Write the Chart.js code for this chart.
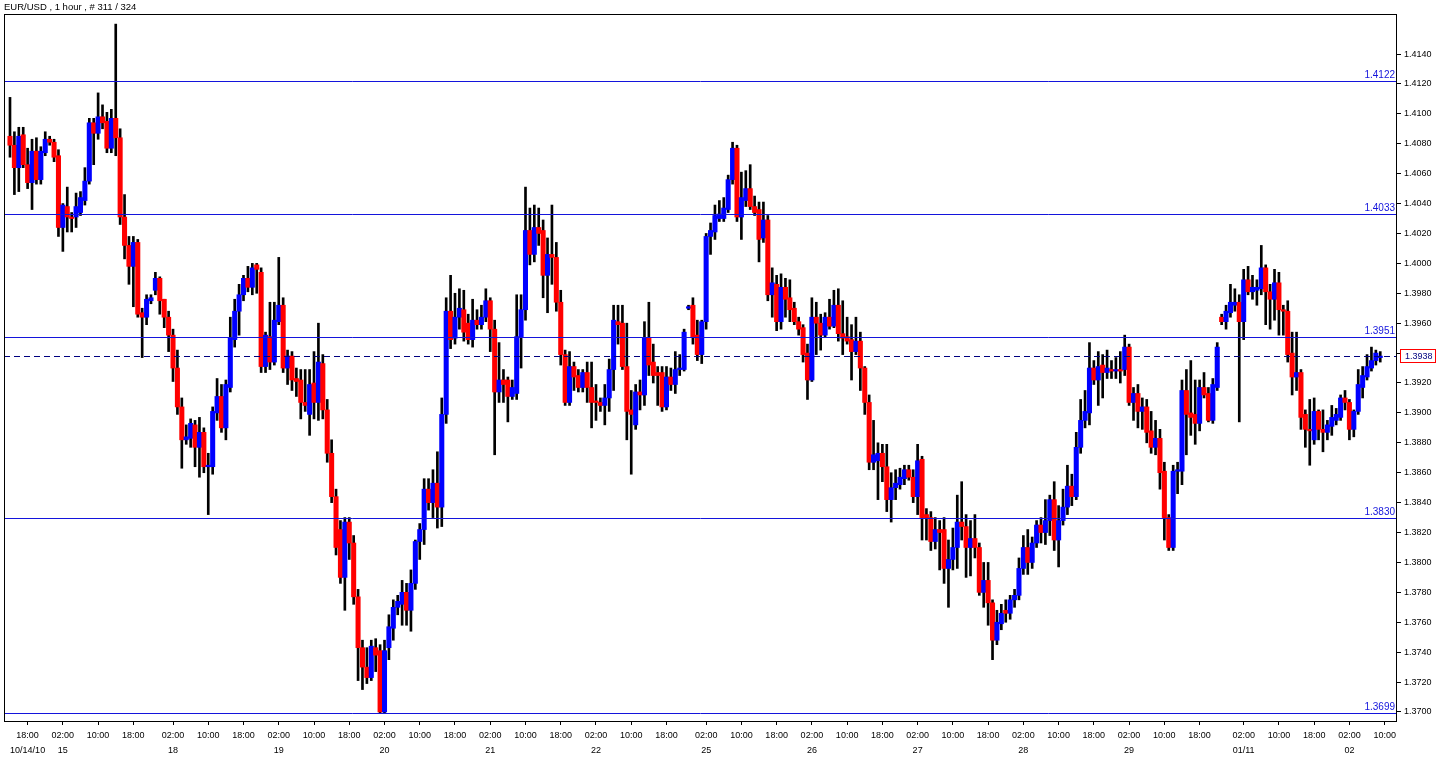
<!DOCTYPE html>
<html><head><meta charset="utf-8">
<script src="https://cdn.jsdelivr.net/npm/chart.js@4.4.0/dist/chart.umd.min.js"></script>
<style>html,body{margin:0;padding:0;background:#fff;overflow:hidden}</style>
</head><body>
<canvas id="c" width="1440" height="763"></canvas>
<script>
const openP=[
1.4085,1.4079,1.4064,1.4086,1.4066,1.4054,1.4075,1.4056,1.4074,1.4083,
1.4081,1.4072,1.4024,1.4038,1.4031,1.4031,1.4034,1.4042,1.4055,1.4094,
1.4087,1.4098,1.4095,1.4077,1.4097,1.4084,1.4031,1.4012,1.3998,1.4014,
1.3967,1.3964,1.3975,1.3982,1.3990,1.3976,1.3964,1.3952,1.3930,1.3904,
1.3882,1.3883,1.3892,1.3877,1.3887,1.3864,1.3864,1.3900,1.3911,1.3890,
1.3917,1.3949,1.3968,1.3979,1.3990,1.3984,1.3999,1.3994,1.3931,1.3951,
1.3934,1.3961,1.3972,1.3930,1.3938,1.3923,1.3922,1.3907,1.3899,1.3920,
1.3907,1.3933,1.3902,1.3873,1.3844,1.3822,1.3790,1.3827,1.3813,1.3777,
1.3743,1.3730,1.3723,1.3743,1.3741,1.3700,1.3743,1.3756,1.3770,1.3772,
1.3780,1.3768,1.3786,1.3814,1.3822,1.3849,1.3840,1.3853,1.3837,1.3899,
1.3968,1.3950,1.3964,1.3969,1.3960,1.3949,1.3962,1.3959,1.3964,1.3975,
1.3956,1.3914,1.3922,1.3922,1.3911,1.3913,1.3951,1.3969,1.4022,1.4006,
1.4024,1.4022,1.3992,1.4006,1.4004,1.3974,1.3939,1.3907,1.3931,1.3925,
1.3917,1.3927,1.3917,1.3908,1.3907,1.3905,1.3910,1.3929,1.3961,1.3960,
1.3931,1.3902,1.3892,1.3914,1.3912,1.3950,1.3934,1.3927,1.3927,1.3904,
1.3924,1.3919,1.3929,1.3929,1.3970,1.3972,1.3952,1.3939,1.3961,1.4018,
1.4021,1.4030,1.4030,1.4036,1.4056,1.4077,1.4031,1.4042,1.4050,1.4038,
1.4036,1.4017,1.4029,1.3979,1.3986,1.3961,1.3984,1.3977,1.3970,1.3961,
1.3957,1.3940,1.3922,1.3964,1.3960,1.3952,1.3964,1.3958,1.3972,1.3953,
1.3951,1.3949,1.3941,1.3948,1.3930,1.3907,1.3867,1.3868,1.3873,1.3864,
1.3842,1.3850,1.3852,1.3856,1.3862,1.3857,1.3844,1.3869,1.3832,1.3830,
1.3814,1.3822,1.3822,1.3796,1.3802,1.3810,1.3827,1.3824,1.3810,1.3816,
1.3810,1.3780,1.3788,1.3773,1.3748,1.3759,1.3768,1.3766,1.3775,1.3778,
1.3796,1.3810,1.3800,1.3813,1.3825,1.3820,1.3828,1.3842,1.3815,1.3828,
1.3837,1.3851,1.3844,1.3877,1.3895,1.3900,1.3930,1.3922,1.3932,1.3927,
1.3929,1.3928,1.3929,1.3929,1.3944,1.3907,1.3913,1.3901,1.3904,1.3888,
1.3877,1.3883,1.3861,1.3830,1.3810,1.3861,1.3861,1.3915,1.3900,1.3899,
1.3893,1.3917,1.3913,1.3895,1.3917,1.3964,1.3961,1.3967,1.3972,1.3974,
1.3961,1.3989,1.3981,1.3982,1.3983,1.3997,1.3981,1.3976,1.3987,1.3969,
1.3968,1.3940,1.3924,1.3927,1.3899,1.3889,1.3882,1.3901,1.3889,1.3887,
1.3891,1.3895,1.3897,1.3910,1.3907,1.3889,1.3901,1.3917,1.3924,1.3930,1.3935,1.3937];
const highP=[
1.4111,1.4088,1.4091,1.4091,1.4077,1.4083,1.4084,1.4078,1.4088,1.4085,
1.4083,1.4076,1.4040,1.4051,1.4034,1.4047,1.4048,1.4064,1.4097,1.4097,
1.4114,1.4106,1.4101,1.4103,1.4160,1.4090,1.4046,1.4018,1.4018,1.4016,
1.3970,1.3979,1.3979,1.3994,1.3991,1.3976,1.3968,1.3956,1.3942,1.3910,
1.3892,1.3896,1.3895,1.3897,1.3890,1.3873,1.3904,1.3923,1.3919,1.3922,
1.3964,1.3976,1.3986,1.3992,1.3998,1.4000,1.4000,1.3997,1.3954,1.3974,
1.3974,1.4004,1.3977,1.3942,1.3941,1.3930,1.3929,1.3929,1.3929,1.3941,
1.3960,1.3939,1.3909,1.3882,1.3849,1.3828,1.3830,1.3830,1.3818,1.3782,
1.3748,1.3743,1.3748,1.3749,1.3745,1.3748,1.3765,1.3775,1.3778,1.3788,
1.3786,1.3795,1.3815,1.3826,1.3856,1.3856,1.3862,1.3874,1.3910,1.3977,
1.3992,1.3980,1.3983,1.3982,1.3966,1.3976,1.3969,1.3972,1.3983,1.3977,
1.3962,1.3947,1.3929,1.3924,1.3922,1.3979,1.3979,1.4051,1.4037,1.4039,
1.4037,1.4029,1.4017,1.4039,1.4014,1.3982,1.3942,1.3941,1.3934,1.3929,
1.3929,1.3934,1.3934,1.3919,1.3910,1.3919,1.3936,1.3972,1.3972,1.3972,
1.3960,1.3915,1.3919,1.3922,1.3961,1.3974,1.3946,1.3931,1.3931,1.3931,
1.3930,1.3941,1.3939,1.3956,1.3972,1.3977,1.3962,1.3962,1.4020,1.4027,
1.4039,1.4042,1.4044,1.4059,1.4081,1.4079,1.4061,1.4062,1.4066,1.4045,
1.4041,1.4041,1.4032,1.3997,1.3992,1.3993,1.3990,1.3989,1.3974,1.3964,
1.3959,1.3946,1.3977,1.3974,1.3966,1.3967,1.3976,1.3982,1.3983,1.3975,
1.3964,1.3959,1.3964,1.3954,1.3931,1.3912,1.3895,1.3880,1.3879,1.3879,
1.3860,1.3862,1.3863,1.3865,1.3865,1.3862,1.3879,1.3871,1.3836,1.3834,
1.3830,1.3828,1.3830,1.3815,1.3823,1.3845,1.3854,1.3832,1.3828,1.3832,
1.3813,1.3800,1.3800,1.3775,1.3768,1.3772,1.3775,1.3778,1.3782,1.3803,
1.3818,1.3822,1.3817,1.3828,1.3830,1.3842,1.3845,1.3854,1.3838,1.3849,
1.3865,1.3859,1.3887,1.3909,1.3915,1.3947,1.3935,1.3941,1.3939,1.3942,
1.3935,1.3937,1.3941,1.3952,1.3946,1.3917,1.3919,1.3910,1.3909,1.3901,
1.3895,1.3889,1.3867,1.3832,1.3865,1.3867,1.3922,1.3929,1.3935,1.3922,
1.3922,1.3927,1.3917,1.3923,1.3947,1.3966,1.3972,1.3986,1.3983,1.3979,
1.3996,1.3998,1.3992,1.3989,1.4012,1.3999,1.3986,1.3996,1.3994,1.3972,
1.3975,1.3954,1.3954,1.3929,1.3902,1.3909,1.3910,1.3902,1.3902,1.3895,
1.3905,1.3903,1.3912,1.3915,1.3909,1.3902,1.3929,1.3931,1.3939,1.3944,1.3942,1.3941];
const lowP=[
1.4071,1.4046,1.4048,1.4064,1.4050,1.4036,1.4053,1.4053,1.4072,1.4079,
1.4068,1.4018,1.4008,1.4021,1.4021,1.4024,1.4032,1.4039,1.4053,1.4066,
1.4083,1.4090,1.4074,1.4074,1.4072,1.4026,1.4003,1.3986,1.3971,1.3964,
1.3937,1.3959,1.3973,1.3979,1.3966,1.3957,1.3941,1.3921,1.3899,1.3863,
1.3879,1.3877,1.3864,1.3857,1.3860,1.3832,1.3859,1.3895,1.3887,1.3882,
1.3914,1.3944,1.3952,1.3975,1.3981,1.3979,1.3980,1.3927,1.3927,1.3929,
1.3932,1.3959,1.3927,1.3919,1.3915,1.3911,1.3896,1.3901,1.3885,1.3896,
1.3895,1.3896,1.3867,1.3840,1.3805,1.3786,1.3768,1.3802,1.3772,1.3721,
1.3715,1.3719,1.3721,1.3727,1.3699,1.3699,1.3735,1.3748,1.3765,1.3758,
1.3758,1.3754,1.3782,1.3802,1.3812,1.3835,1.3830,1.3823,1.3824,1.3893,
1.3943,1.3946,1.3956,1.3948,1.3946,1.3944,1.3956,1.3956,1.3961,1.3941,
1.3872,1.3907,1.3907,1.3894,1.3909,1.3909,1.3930,1.3962,1.3999,1.4001,
1.4012,1.3977,1.3967,1.3986,1.3968,1.3932,1.3905,1.3905,1.3915,1.3914,
1.3914,1.3907,1.3890,1.3895,1.3901,1.3892,1.3901,1.3915,1.3946,1.3929,
1.3882,1.3859,1.3889,1.3902,1.3905,1.3925,1.3920,1.3905,1.3901,1.3902,
1.3915,1.3913,1.3925,1.3928,1.3969,1.3946,1.3935,1.3933,1.3956,1.4006,
1.4016,1.4028,1.4028,1.4034,1.4053,1.4028,1.4016,1.4038,1.4036,1.4032,
1.4001,1.4014,1.3975,1.3964,1.3955,1.3956,1.3964,1.3961,1.3959,1.3952,
1.3934,1.3909,1.3921,1.3939,1.3942,1.3951,1.3956,1.3957,1.3948,1.3939,
1.3946,1.3922,1.3939,1.3915,1.3899,1.3862,1.3862,1.3842,1.3854,1.3834,
1.3827,1.3842,1.3849,1.3852,1.3855,1.3840,1.3832,1.3815,1.3815,1.3808,
1.3809,1.3795,1.3786,1.3770,1.3795,1.3796,1.3815,1.3790,1.3791,1.3803,
1.3778,1.3770,1.3758,1.3735,1.3745,1.3755,1.3760,1.3762,1.3770,1.3775,
1.3792,1.3792,1.3796,1.3810,1.3813,1.3812,1.3818,1.3808,1.3797,1.3825,
1.3832,1.3838,1.3842,1.3873,1.3890,1.3892,1.3919,1.3905,1.3910,1.3923,
1.3923,1.3923,1.3920,1.3925,1.3905,1.3895,1.3890,1.3889,1.3880,1.3873,
1.3872,1.3849,1.3815,1.3808,1.3808,1.3846,1.3852,1.3872,1.3885,1.3879,
1.3888,1.3910,1.3894,1.3893,1.3915,1.3959,1.3956,1.3964,1.3968,1.3894,
1.3949,1.3979,1.3976,1.3972,1.3979,1.3959,1.3956,1.3962,1.3952,1.3952,
1.3934,1.3912,1.3915,1.3889,1.3877,1.3865,1.3879,1.3882,1.3874,1.3882,
1.3885,1.3892,1.3895,1.3902,1.3882,1.3884,1.3899,1.3910,1.3922,1.3928,1.3932,1.3934];
const closeP=[
1.4079,1.4064,1.4085,1.4066,1.4054,1.4075,1.4056,1.4075,1.4083,1.4081,
1.4071,1.4024,1.4039,1.4031,1.4030,1.4038,1.4044,1.4055,1.4094,1.4087,
1.4098,1.4094,1.4077,1.4097,1.4084,1.4031,1.4012,1.3998,1.4014,1.3966,
1.3964,1.3976,1.3977,1.3990,1.3975,1.3964,1.3952,1.3930,1.3904,1.3882,
1.3884,1.3893,1.3877,1.3887,1.3864,1.3865,1.3901,1.3911,1.3890,1.3919,
1.3950,1.3968,1.3979,1.3990,1.3984,1.3997,1.3996,1.3931,1.3952,1.3934,
1.3962,1.3972,1.3930,1.3938,1.3922,1.3921,1.3907,1.3905,1.3919,1.3907,
1.3934,1.3902,1.3873,1.3844,1.3810,1.3790,1.3827,1.3813,1.3777,1.3743,
1.3730,1.3723,1.3744,1.3738,1.3700,1.3741,1.3757,1.3770,1.3774,1.3780,
1.3768,1.3786,1.3814,1.3822,1.3849,1.3840,1.3853,1.3837,1.3899,1.3968,
1.3949,1.3964,1.3970,1.3954,1.3949,1.3962,1.3959,1.3964,1.3975,1.3956,
1.3914,1.3922,1.3919,1.3911,1.3917,1.3951,1.3969,1.4022,1.4006,1.4024,
1.4020,1.3992,1.4006,1.4004,1.3974,1.3939,1.3907,1.3931,1.3924,1.3917,
1.3927,1.3917,1.3907,1.3907,1.3905,1.3910,1.3929,1.3962,1.3959,1.3931,
1.3901,1.3899,1.3914,1.3912,1.3950,1.3932,1.3925,1.3925,1.3904,1.3924,
1.3919,1.3929,1.3930,1.3954,1.3971,1.3951,1.3939,1.3961,1.4018,1.4022,
1.4032,1.4033,1.4037,1.4056,1.4077,1.4031,1.4044,1.4050,1.4038,1.4034,
1.4016,1.4029,1.3979,1.3987,1.3961,1.3984,1.3976,1.3969,1.3961,1.3956,
1.3939,1.3922,1.3964,1.3960,1.3952,1.3964,1.3958,1.3972,1.3953,1.3950,
1.3948,1.3941,1.3948,1.3930,1.3907,1.3867,1.3872,1.3873,1.3864,1.3842,
1.3850,1.3853,1.3857,1.3862,1.3857,1.3844,1.3868,1.3830,1.3830,1.3814,
1.3822,1.3820,1.3796,1.3802,1.3810,1.3827,1.3824,1.3810,1.3816,1.3810,
1.3780,1.3788,1.3773,1.3748,1.3760,1.3766,1.3766,1.3775,1.3778,1.3796,
1.3810,1.3800,1.3813,1.3825,1.3820,1.3828,1.3842,1.3815,1.3828,1.3837,
1.3851,1.3844,1.3877,1.3895,1.3901,1.3930,1.3922,1.3931,1.3927,1.3930,
1.3928,1.3929,1.3928,1.3944,1.3907,1.3913,1.3901,1.3904,1.3887,1.3877,
1.3883,1.3860,1.3830,1.3810,1.3861,1.3862,1.3915,1.3899,1.3897,1.3893,
1.3917,1.3912,1.3895,1.3919,1.3944,1.3961,1.3968,1.3974,1.3974,1.3961,
1.3989,1.3981,1.3984,1.3984,1.3997,1.3981,1.3976,1.3987,1.3969,1.3968,
1.3939,1.3924,1.3927,1.3897,1.3889,1.3888,1.3901,1.3889,1.3887,1.3892,
1.3897,1.3899,1.3910,1.3907,1.3889,1.3901,1.3919,1.3925,1.3931,1.3935,1.3940,1.3938];

const timeTickIdx=[4,12,20,28,37,45,53,61,69,77,85,93,101,109,117,125,133,141,149,158,166,174,182,190,198,206,214,222,230,238,246,254,262,270,280,288,296,304,312];
const timeTickLabels=["18:00","02:00","10:00","18:00","02:00","10:00","18:00","02:00","10:00","18:00","02:00","10:00","18:00","02:00","10:00","18:00","02:00","10:00","18:00","02:00","10:00","18:00","02:00","10:00","18:00","02:00","10:00","18:00","02:00","10:00","18:00","02:00","10:00","18:00","02:00","10:00","18:00","02:00","10:00"];
const dateTickLabels=["10/14/10","15","","","18","","","19","","","20","","","21","","","22","","","25","","","26","","","27","","","28","","","29","","","01/11","","","02",""];
const yTicks=[1.3700,1.3720,1.3740,1.3760,1.3780,1.3800,1.3820,1.3840,1.3860,1.3880,1.3900,1.3920,1.3940,1.3960,1.3980,1.4000,1.4020,1.4040,1.4060,1.4080,1.4100,1.4120,1.4140];
const levels=[1.4122,1.4033,1.3951,1.3830,1.3699];
const lastPrice=1.3938;
const titleText="EUR/USD , 1 hour , # 311 / 324";

const XMIN=-1.36, XMAX=314.8, YMIN=1.36933, YMAX=1.416676;
const BULL='#0000ff', BEAR='#ff0000', LEVEL='#1414dc';

const wickData=openP.map((o,i)=>({x:i,y:[lowP[i],highP[i]]}));
const bodyData=openP.map((o,i)=>({x:i,y:[Math.min(o,closeP[i]),Math.max(o,closeP[i])]}));
const bodyColors=openP.map((o,i)=>closeP[i]<o?BEAR:BULL);

const datasets=[
 {type:'bar',data:wickData,backgroundColor:'#000',barThickness:2,grouped:false,order:3},
 {type:'bar',data:bodyData,backgroundColor:bodyColors,barThickness:4.4,minBarLength:1,grouped:false,order:2}
];

const deco={
 id:'deco',
 beforeDraw(chart){const c=chart.ctx;c.save();c.fillStyle='#fff';c.fillRect(0,0,chart.width,chart.height);c.restore();},
 afterDatasetsDraw(chart){
  const c=chart.ctx,a=chart.chartArea,y=chart.scales.y;
  c.save();
  c.lineWidth=1;
  c.strokeStyle=LEVEL;
  levels.forEach(l=>{const py=Math.round(y.getPixelForValue(l))+0.5;c.beginPath();c.moveTo(a.left,py);c.lineTo(a.right,py);c.stroke();});
  const pl=Math.round(y.getPixelForValue(lastPrice))+0.5;
  c.strokeStyle='#000080';c.setLineDash([6,4]);c.beginPath();c.moveTo(a.left,pl);c.lineTo(a.right,pl);c.stroke();c.setLineDash([]);
  c.font='10px "Liberation Sans"';c.fillStyle=LEVEL;c.textAlign='right';c.textBaseline='bottom';
  levels.forEach(l=>{c.fillText(l.toFixed(4),a.right-2,Math.round(y.getPixelForValue(l))-1);});
  c.restore();
 },
 afterDraw(chart){
  const c=chart.ctx,a=chart.chartArea,y=chart.scales.y;
  c.save();
  c.strokeStyle='#000';c.lineWidth=1;
  c.strokeRect(Math.round(a.left)+0.5,Math.round(a.top)+0.5,Math.round(a.right-a.left)-1,Math.round(a.bottom-a.top)-1);
  const py=Math.round(y.getPixelForValue(lastPrice));
  c.fillStyle='#fff';c.fillRect(a.right+3,py-7,36,14);
  c.strokeStyle='#ff0000';c.strokeRect(a.right+3.5,py-6.5,35,13);
  c.fillStyle='#000080';c.font='9px "Liberation Sans"';c.textAlign='left';c.textBaseline='middle';
  c.fillText(lastPrice.toFixed(4),a.right+8,py+0.5);
  c.fillStyle='#000';c.font='9.5px "Liberation Sans"';c.textBaseline='middle';c.fillText(titleText,4,7);
  c.restore();
 }
};

new Chart(document.getElementById('c'),{
 type:'bar',
 data:{datasets},
 plugins:[deco],
 options:{
  responsive:false,animation:false,devicePixelRatio:1,events:[],
  layout:{padding:{left:4,top:14,right:0,bottom:0}},
  plugins:{legend:{display:false},tooltip:{enabled:false}},
  scales:{
   x:{type:'linear',min:XMIN,max:XMAX,offset:false,
      grid:{display:true,offset:false,drawOnChartArea:false,drawTicks:true,tickLength:3,color:'#000'},
      border:{display:false},
      afterBuildTicks:s=>{s.ticks=timeTickIdx.map(v=>({value:v}));},
      ticks:{autoSkip:false,maxRotation:0,padding:3,color:'#000',font:{family:'Liberation Sans',size:9,lineHeight:1.7},
        callback:(v,i)=>[timeTickLabels[i],dateTickLabels[i]]},
      afterFit:s=>{s.height=41;}
   },
   y:{position:'right',min:YMIN,max:YMAX,
      grid:{drawOnChartArea:false,tickLength:4,color:'#000'},
      border:{display:false},
      afterBuildTicks:s=>{s.ticks=yTicks.map(v=>({value:v}));},
      ticks:{padding:3,color:'#000',font:{family:'Liberation Sans',size:9},callback:v=>Number(v).toFixed(4)},
      afterFit:s=>{s.width=43;}
   }
  }
 }
});
</script>
</body></html>
